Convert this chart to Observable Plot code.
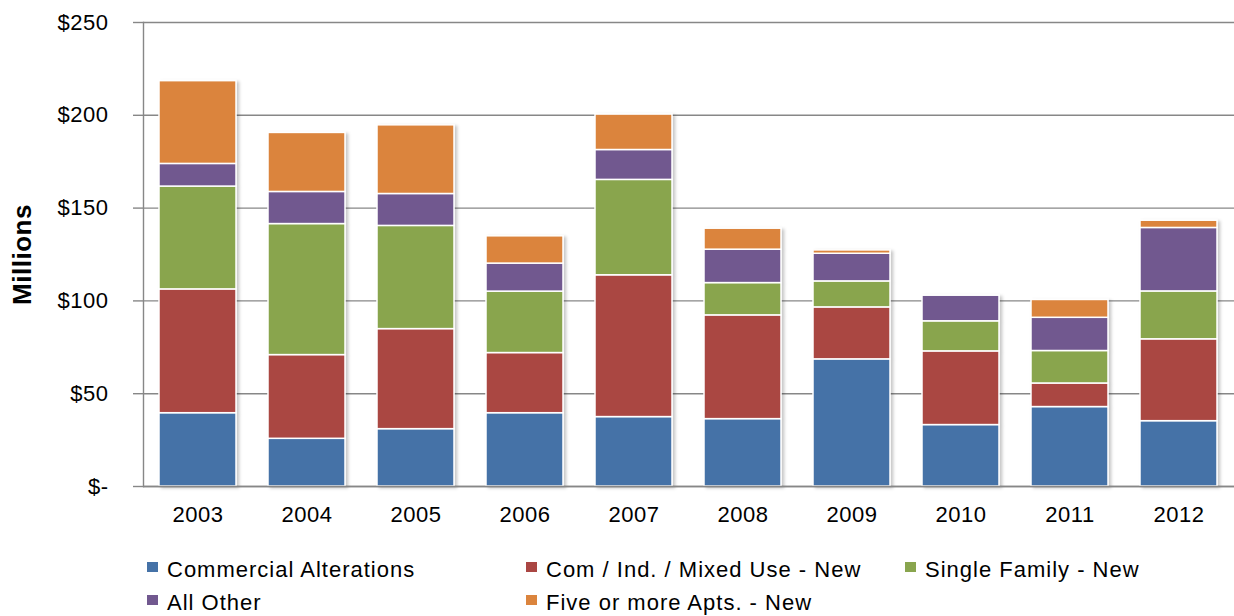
<!DOCTYPE html>
<html>
<head>
<meta charset="utf-8">
<script src="https://cdn.jsdelivr.net/npm/d3@7"></script>
<script src="https://cdn.jsdelivr.net/npm/@observablehq/plot@0.6"></script>
<style>
  html, body { margin: 0; padding: 0; background: #fff; }
  body { width: 1234px; height: 616px; position: relative; overflow: hidden;
         font-family: "Liberation Sans", Arial, sans-serif; color: #000; }
  #chart svg { display: block; overflow: visible; }
  #chart svg text { letter-spacing: 0.5px; }
  .legend { position: absolute; left: 147px; top: 553px; display: grid;
            grid-template-columns: 379px 379px auto; font-size: 22px; line-height: 33px;
            letter-spacing: 1px; }
  .legend .item { position: relative; padding-left: 20px; height: 33px; white-space: nowrap; }
  .legend .sw { position: absolute; left: 0; top: 9px; width: 11px; height: 10px; }
</style>
</head>
<body>
<div id="chart"></div>
<div class="legend" id="legend"></div>
<script>
// Building permit valuation by type, millions of dollars
const years = ["2003", "2004", "2005", "2006", "2007", "2008", "2009", "2010", "2011", "2012"];
const seriesNames = [
  "Commercial Alterations",
  "Com / Ind. / Mixed Use - New",
  "Single Family - New",
  "All Other",
  "Five or more Apts. - New"
];
const commercialAlterations = [39.5, 25.7, 30.9, 39.5, 37.4, 36.3, 68.5, 33.1, 42.8, 35.2];
const comIndMixedUseNew     = [66.7, 45.1, 53.9, 32.4, 76.4, 55.9, 28.0, 39.7, 12.7, 44.1];
const singleFamilyNew       = [55.4, 70.6, 55.6, 33.1, 51.4, 17.4, 14.0, 16.2, 17.5, 25.8];
const allOther              = [12.2, 17.3, 17.2, 15.1, 16.1, 18.0, 14.9, 13.8, 17.9, 34.2];
const fivePlusAptsNew       = [44.6, 31.8, 37.0, 14.7, 19.1, 11.3, 1.8, 0, 9.6, 3.9];
const yTicks = [0, 50, 100, 150, 200, 250];
const colors = ["#4572A7", "#AA4643", "#89A54E", "#71588F", "#DB843D"];

const seriesValues = [commercialAlterations, comIndMixedUseNew, singleFamilyNew, allOther, fivePlusAptsNew];

// long-format rows, stacked bottom-up in series order
const rows = [];
years.forEach((year, i) => {
  seriesNames.forEach((name, s) => {
    rows.push({year, series: name, value: seriesValues[s][i]});
  });
});

const gridColor = "#878787";

const plot = Plot.plot({
  width: 1234,
  height: 535,
  marginLeft: 143,
  marginRight: 0,
  marginTop: 22,
  marginBottom: 49,
  style: {fontFamily: "'Liberation Sans', Arial, sans-serif", fontSize: "22px", color: "#000", background: "#fff"},
  x: {domain: years, range: [141, 1236], paddingInner: 0.29, paddingOuter: 0.145, label: null},
  y: {domain: [0, 250], label: null},
  color: {domain: seriesNames, range: colors},
  marks: [
    Plot.ruleY(yTicks, {stroke: gridColor, strokeWidth: 1.4}),
    Plot.barY(rows, {x: "year", y: "value", fill: "series", stroke: "white", strokeWidth: 1.5}),
    Plot.ruleY([0], {stroke: gridColor, strokeWidth: 1.6}),
    Plot.frame({anchor: "left", stroke: gridColor, strokeWidth: 1.4}),
    Plot.axisY({
      ticks: yTicks,
      tickFormat: d => d === 0 ? "$-" : "$" + d,
      tickSize: 10,
      tickPadding: 25,
      stroke: gridColor,
      strokeWidth: 1.4,
      fill: "#000",
      label: null
    }),
    Plot.axisX({tickSize: 0, tickPadding: 20, fill: "#000", label: null}),
    Plot.text(["Millions"], {
      frameAnchor: "left", dx: -121, rotate: -90, textAnchor: "middle",
      fontWeight: "bold", fontSize: 26, fill: "#000"
    })
  ]
});

// soft drop shadow on the bar stacks
const ns = "http://www.w3.org/2000/svg";
const defs = document.createElementNS(ns, "defs");
defs.innerHTML = '<filter id="barShadow" x="-10%" y="-10%" width="130%" height="130%">' +
  '<feDropShadow dx="2.5" dy="1.5" stdDeviation="1.6" flood-color="#000" flood-opacity="0.22"/></filter>';
plot.insertBefore(defs, plot.firstChild);
const barGroup = plot.querySelector('g[aria-label="bar"]');
if (barGroup) barGroup.setAttribute("filter", "url(#barShadow)");

document.getElementById("chart").appendChild(plot);

// legend: three columns, two rows
const legend = document.getElementById("legend");
seriesNames.forEach((name, s) => {
  const item = document.createElement("div");
  item.className = "item";
  const sw = document.createElement("span");
  sw.className = "sw";
  sw.style.background = colors[s];
  item.appendChild(sw);
  item.appendChild(document.createTextNode(name));
  legend.appendChild(item);
});
</script>
</body>
</html>
